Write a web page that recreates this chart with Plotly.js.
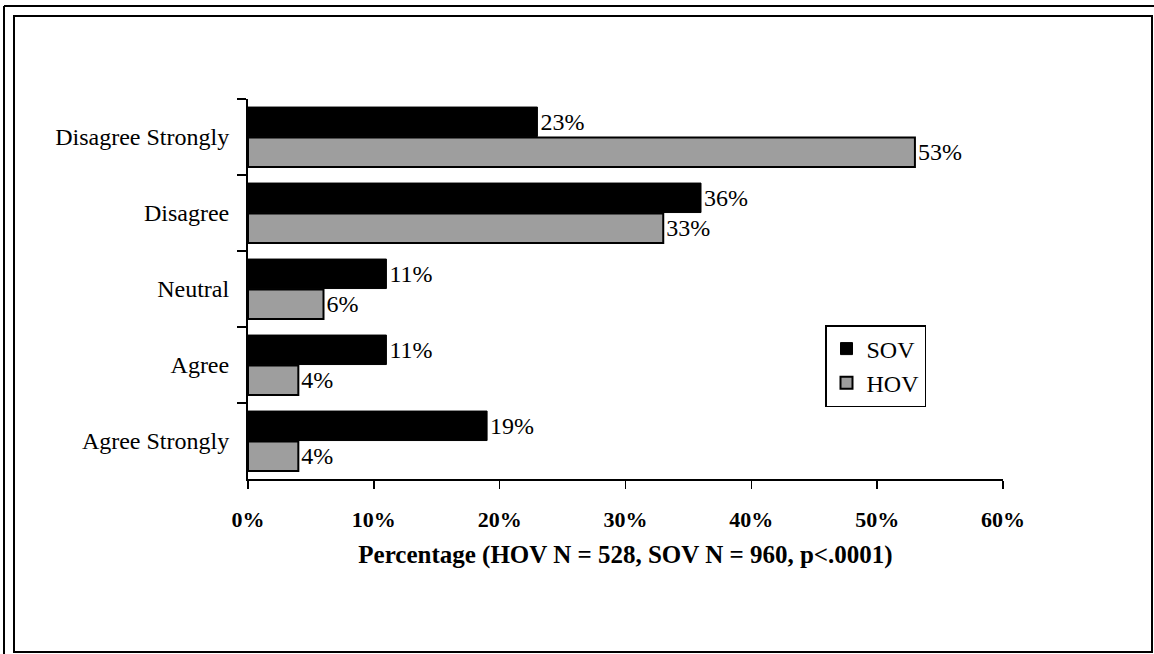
<!DOCTYPE html>
<html>
<head>
<meta charset="utf-8">
<script src="https://cdn.plot.ly/plotly-3.0.1.min.js"></script>
<style>
html,body{margin:0;padding:0;background:#fff;}
#chart{width:1154px;height:654px;}
</style>
</head>
<body>
<div id="chart"></div>
<script>
const categories = ["Disagree Strongly", "Disagree", "Neutral", "Agree", "Agree Strongly"];
const sovValues = [23, 36, 11, 11, 19];
const hovValues = [53, 33, 6, 4, 4];
const seriesNames = ["SOV", "HOV"];
const xTickVals = [0, 10, 20, 30, 40, 50, 60];
const xTitle = "Percentage (HOV N = 528, SOV N = 960, p<.0001)";

const W = 1154, H = 654;
const L = 248, R = 1003, T = 99, B = 479;
const px = v => (v - L) / (R - L);
const py = v => (B - v) / (B - T);
const serif = "Liberation Serif, Times New Roman, serif";

const traces = [
  {
    type: "bar", orientation: "h", name: seriesNames[0],
    y: categories, x: sovValues,
    marker: {color: "#000000", line: {color: "#000", width: 1}},
    text: sovValues.map(v => v + "%"), textposition: "outside",
    textfont: {family: serif, size: 24, color: "#000"}, cliponaxis: false
  },
  {
    type: "bar", orientation: "h", name: seriesNames[1],
    y: categories, x: hovValues,
    marker: {color: "#9e9e9e", line: {color: "#000", width: 2}},
    text: hovValues.map(v => v + "%"), textposition: "outside",
    textfont: {family: serif, size: 24, color: "#000"}, cliponaxis: false
  }
];

const layout = {
  width: W, height: H,
  margin: {l: L, r: W - R, t: T, b: H - B, pad: 0},
  paper_bgcolor: "#fff", plot_bgcolor: "#fff",
  barmode: "group", bargap: 0.2, bargroupgap: 0.03,
  font: {family: serif, color: "#000", size: 22},
  showlegend: true,
  legend: {
    x: px(825), y: py(325), xanchor: "left", yanchor: "top",
    bordercolor: "#000", borderwidth: 1.5, bgcolor: "#fff",
    font: {family: serif, size: 24, color: "#000"},
    traceorder: "normal", itemwidth: 30, tracegroupgap: 8
  },
  xaxis: {
    range: [0, 60], tickvals: xTickVals, ticktext: xTickVals.map(v => v + "%"),
    showgrid: false, zeroline: false, showline: true, linecolor: "#000", linewidth: 2,
    ticks: "outside", ticklen: 8, tickwidth: 1.5, tickcolor: "#000",
    ticklabelstandoff: 12,
    tickfont: {family: serif, size: 22, color: "#000", weight: "bold"},
    title: {text: xTitle, font: {family: serif, size: 25, color: "#000", weight: "bold"}, standoff: 14},
    fixedrange: true
  },
  yaxis: {
    type: "category", autorange: "reversed",
    showgrid: false, zeroline: false, showline: true, linecolor: "#000", linewidth: 2,
    ticks: "outside", tickson: "boundaries", ticklen: 9, tickwidth: 1.5, tickcolor: "#000",
    tickfont: {family: serif, size: 24, color: "#000"},
    ticklabelstandoff: 12,
    fixedrange: true
  },
  shapes: [
    {type: "rect", xref: "paper", yref: "paper", x0: px(14), x1: px(1152), y0: py(16), y1: py(652), line: {color: "#000", width: 2}},
    {type: "line", xref: "paper", yref: "paper", x0: px(4), x1: px(1154), y0: py(6), y1: py(6), line: {color: "#000", width: 2}},
    {type: "line", xref: "paper", yref: "paper", x0: px(4), x1: px(4), y0: py(6), y1: py(654), line: {color: "#000", width: 2}}
  ]
};

Plotly.newPlot("chart", traces, layout, {displayModeBar: false, staticPlot: true});
</script>
</body>
</html>
